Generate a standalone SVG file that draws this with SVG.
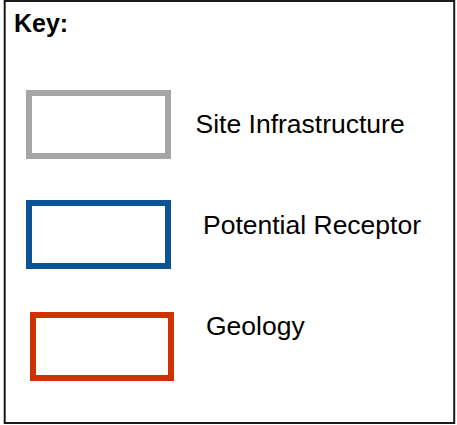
<svg xmlns="http://www.w3.org/2000/svg" width="457" height="425" viewBox="0 0 457 425">
<style>
.frame{fill:#fff;stroke:#1a1a1a;stroke-width:2}
.sw{fill:#fff;stroke-width:6}
.lbl{font-family:"Liberation Sans",Arial,sans-serif;font-size:26.5px;fill:#000}
.title{font-family:"Liberation Sans",Arial,sans-serif;font-size:25px;font-weight:bold;fill:#000}
</style>
<rect width="457" height="425" fill="#fff"/>
<g id="key">
<rect class="frame" x="4.7" y="1" width="449.5" height="422"/>
<text class="title" x="14" y="32">Key:</text>
</g>
<g id="site-infrastructure">
<rect class="sw" x="29" y="93" width="139" height="63" stroke="#a5a5a5"/>
<text class="lbl" x="195.5" y="133">Site Infrastructure</text>
</g>
<g id="potential-receptor">
<rect class="sw" x="29" y="203" width="139" height="63" stroke="#0b5394"/>
<text class="lbl" x="203" y="234">Potential Receptor</text>
</g>
<g id="geology">
<rect class="sw" x="33" y="315" width="138" height="63" stroke="#cc3300"/>
<text class="lbl" x="206" y="335">Geology</text>
</g>
<g id="connectors"/>
</svg>
